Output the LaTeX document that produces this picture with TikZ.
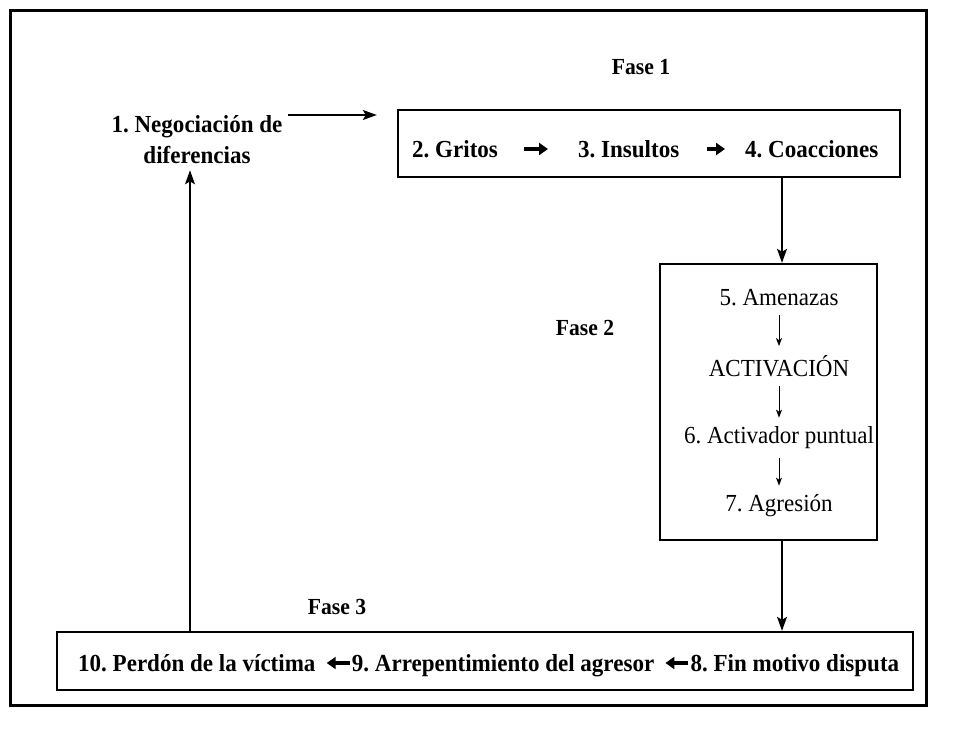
\documentclass[tikz,border=0pt]{standalone}
\usepackage{fontspec}
\setmainfont{Liberation Serif}[FakeStretch=0.94]
\usetikzlibrary{arrows.meta,calc}
\newcommand\myfs{\fontsize{24.5}{31}\selectfont\frenchspacing}
\newcommand\fasefs{\fontsize{23}{27}\selectfont}
\begin{document}
\begin{tikzpicture}[x=1pt,y=-1pt,
  bt/.style={font=\myfs\bfseries, inner sep=0pt},
  rt/.style={font=\myfs, inner sep=0pt},
  ft/.style={font=\fasefs\bfseries, inner sep=0pt},
  box/.style={draw, line width=2.4pt, inner sep=0pt},
  conn/.style={-{Stealth[length=14pt,width=10pt,inset=3pt]}, line width=1.2pt},
  thinconn/.style={-{Stealth[length=8pt,width=6pt,inset=2pt]}, line width=1pt, shorten <=9pt, shorten >=9pt},
  heavyr/.style={-{Triangle[length=9pt,width=12pt]}, line width=4pt},
]
\useasboundingbox (0,0) rectangle (973,753);
\draw[line width=3pt] (10,10) rectangle (926,705);

% labels
\node[ft] (f1) at (641,67) {Fase 1};
\node[ft] (f2) at (585,328) {Fase 2};
\node[ft] (f3) at (337,607) {Fase 3};

\node[bt, align=center] (neg) at (197,140) {1. Negociación de\\diferencias};

% box 1
\node[box, minimum width=502, minimum height=67] (b1) at (649,143.5) {};
\node[bt, anchor=base west] (g) at (412,157) {2. Gritos};
\node[bt, anchor=base west] (ins) at (578,157) {3. Insultos};
\node[bt, anchor=base west] (co) at (745,157) {4. Coacciones};
\draw[heavyr] ($(g.base east)+(26,-8)$) -- ($(ins.base west)+(-30,-8)$);
\draw[heavyr] ($(ins.base east)+(27,-8)$) -- ($(co.base west)+(-20,-8)$);

% box 2
\node[box, minimum width=217, minimum height=276] (b2) at (768.5,402) {};
\node[rt] (a5) at (779,298) {5. Amenazas};
\node[rt] (act) at (779,366) {ACTIVACIÓN};
\node[rt] (a6) at (779,438) {6. Activador puntual};
\node[rt] (a7) at (779,506) {7. Agresión};
\draw[thinconn] (a5) -- (act);
\draw[thinconn] (act) -- (a6);
\draw[thinconn] (a6) -- (a7);

% box 3
\node[box, minimum width=856, minimum height=58] (b3) at (485,661) {};
\node[bt, anchor=base west] (n10) at (78,671) {10. Perdón de la víctima};
\node[bt, anchor=base west] (n9) at ($(n10.base east)+(36,0)$) {9. Arrepentimiento del agresor};
\node[bt, anchor=base west] (n8) at ($(n9.base east)+(36,0)$) {8. Fin motivo disputa};
\draw[heavyr] ($(n9.base west)+(-2,-8)$) -- ($(n10.base east)+(11,-8)$);
\draw[heavyr] ($(n8.base west)+(-2,-8)$) -- ($(n9.base east)+(11,-8)$);

% connectors
\coordinate (xa) at (782,0);
\coordinate (xr) at (190,0);
\coordinate (ny) at (0,115);
\draw[conn] (b1.south -| xa) -- (b2.north -| xa);
\draw[conn] (b2.south -| xa) -- (b3.north -| xa);
\draw[conn] (b3.north -| xr) -- ([yshift=-6pt]neg.south -| xr);
\draw[conn, shorten <=5pt, shorten >=20pt] (neg.east |- ny) -- (b1.west |- ny);
\end{tikzpicture}
\end{document}
